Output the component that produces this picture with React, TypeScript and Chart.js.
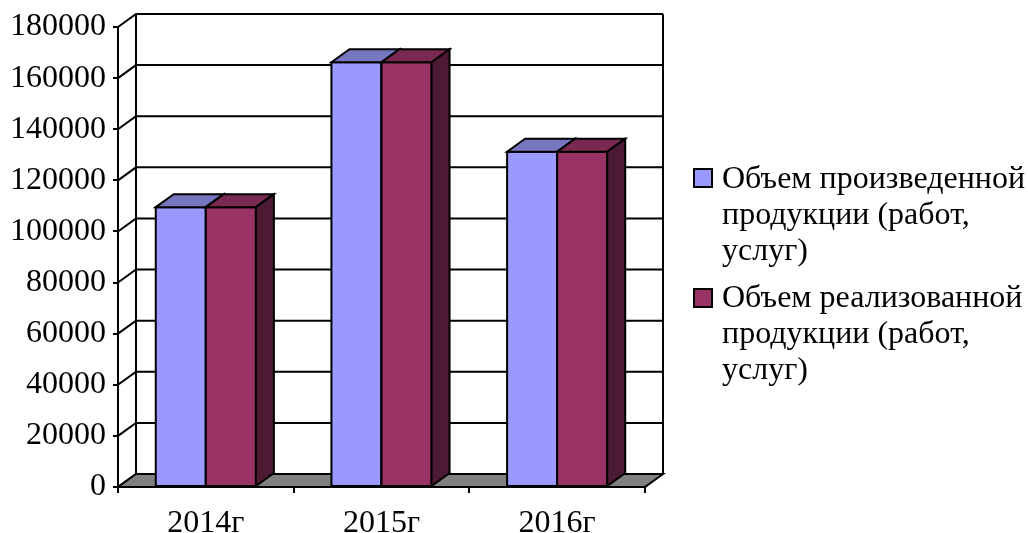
import React, { useEffect, useRef } from "react";
import { Chart, registerables } from "chart.js";

Chart.register(...registerables);

// ---- data ----
const categories = ["2014г", "2015г", "2016г"];
const producedValues = [109500, 166200, 131200];
const soldValues = [109500, 166200, 131200];
const producedLabelLines = ["Объем произведенной", "продукции (работ,", "услуг)"];
const soldLabelLines = ["Объем реализованной", "продукции (работ,", "услуг)"];
const yMin = 0;
const yMax = 180000;
const yStep = 20000;

// ---- styling ----
const FONT = "'Liberation Serif', 'Times New Roman', serif";
const FONT_SIZE = 32;
const DX = 18;
const DY = -13;
const seriesColors = [
  { front: "#9999FF", top: "#7777BF", side: "#5F5FA0" },
  { front: "#993366", top: "#7A2952", side: "#4D1A33" },
];

const threeDPlugin = {
  id: "threeD",
  beforeDatasetsDraw(chart: any) {
    const { ctx, chartArea } = chart;
    const { left, right, top, bottom } = chartArea;
    const y = chart.scales.y;
    ctx.save();
    ctx.strokeStyle = "#000";
    ctx.lineWidth = 2;
    ctx.lineJoin = "miter";
    // left wall diagonals + back wall gridlines
    y.ticks.forEach((t: any) => {
      const py = y.getPixelForValue(t.value);
      ctx.beginPath();
      ctx.moveTo(left, py);
      ctx.lineTo(left + DX, py + DY);
      ctx.lineTo(right + DX, py + DY);
      ctx.stroke();
    });
    // back wall verticals
    ctx.beginPath();
    ctx.moveTo(left + DX, top + DY);
    ctx.lineTo(left + DX, bottom + DY);
    ctx.moveTo(right + DX, top + DY);
    ctx.lineTo(right + DX, bottom + DY);
    ctx.stroke();
    // floor
    ctx.beginPath();
    ctx.moveTo(left, bottom);
    ctx.lineTo(right, bottom);
    ctx.lineTo(right + DX, bottom + DY);
    ctx.lineTo(left + DX, bottom + DY);
    ctx.closePath();
    ctx.fillStyle = "#808080";
    ctx.fill();
    ctx.stroke();
    ctx.restore();
  },
  afterDatasetsDraw(chart: any) {
    const { ctx } = chart;
    const n = chart.data.labels.length;
    ctx.save();
    ctx.strokeStyle = "#000";
    ctx.lineWidth = 2;
    ctx.lineJoin = "miter";
    for (let i = 0; i < n; i++) {
      chart.data.datasets.forEach((_ds: any, di: number) => {
        const meta = chart.getDatasetMeta(di);
        const el = meta.data[i];
        if (!el) return;
        const { x, y, base, width } = el.getProps(["x", "y", "base", "width"], true);
        const l = x - width / 2;
        const r = x + width / 2;
        const c = seriesColors[di];
        // front
        ctx.beginPath();
        ctx.rect(l, y, r - l, base - y);
        ctx.fillStyle = c.front;
        ctx.fill();
        ctx.stroke();
        // top
        ctx.beginPath();
        ctx.moveTo(l, y);
        ctx.lineTo(l + DX, y + DY);
        ctx.lineTo(r + DX, y + DY);
        ctx.lineTo(r, y);
        ctx.closePath();
        ctx.fillStyle = c.top;
        ctx.fill();
        ctx.stroke();
        // side
        ctx.beginPath();
        ctx.moveTo(r, y);
        ctx.lineTo(r + DX, y + DY);
        ctx.lineTo(r + DX, base + DY);
        ctx.lineTo(r, base);
        ctx.closePath();
        ctx.fillStyle = c.side;
        ctx.fill();
        ctx.stroke();
      });
    }
    ctx.restore();
  },
};

export default function App() {
  const canvasRef = useRef<HTMLCanvasElement | null>(null);

  useEffect(() => {
    if (!canvasRef.current) return;
    const chart = new Chart(canvasRef.current, {
      type: "bar",
      data: {
        labels: categories,
        datasets: [
          {
            label: producedLabelLines.join(" "),
            data: producedValues,
            backgroundColor: seriesColors[0].front,
            borderColor: "#000",
            borderWidth: 2,
            categoryPercentage: 0.57,
            barPercentage: 1,
          },
          {
            label: soldLabelLines.join(" "),
            data: soldValues,
            backgroundColor: seriesColors[1].front,
            borderColor: "#000",
            borderWidth: 2,
            categoryPercentage: 0.57,
            barPercentage: 1,
          },
        ],
      },
      options: {
        animation: false,
        responsive: false,
        devicePixelRatio: 1,
        layout: { padding: { top: 27, right: 383, left: 0, bottom: 0 } },
        plugins: {
          legend: { display: false },
          tooltip: { enabled: false },
        },
        scales: {
          x: {
            afterFit: (s: any) => {
              s.height = 46;
            },
            grid: {
              display: true,
              offset: true,
              drawOnChartArea: false,
              drawTicks: true,
              tickLength: 6,
              color: "#000",
              lineWidth: 2,
            },
            border: { display: true, color: "#000", width: 2 },
            ticks: {
              color: "#000",
              font: { family: FONT, size: FONT_SIZE },
              padding: 11,
              maxRotation: 0,
            },
          },
          y: {
            min: yMin,
            max: yMax,
            afterFit: (s: any) => {
              s.width = 118;
            },
            grid: {
              display: true,
              drawOnChartArea: false,
              drawTicks: true,
              tickLength: 5,
              color: "#000",
              lineWidth: 2,
            },
            border: { display: true, color: "#000", width: 2 },
            ticks: {
              stepSize: yStep,
              color: "#000",
              font: { family: FONT, size: FONT_SIZE },
              padding: 7,
              callback: (v: any) => String(v),
            },
          },
        },
      },
      plugins: [threeDPlugin],
    });
    return () => chart.destroy();
  }, []);

  const legendItems = [
    { lines: producedLabelLines, color: seriesColors[0].front, top: 159, boxTop: 168 },
    { lines: soldLabelLines, color: seriesColors[1].front, top: 278, boxTop: 288 },
  ];

  return (
    <div
      style={{
        position: "fixed",
        left: 0,
        top: 0,
        width: 1028,
        height: 533,
        background: "#fff",
        overflow: "hidden",
      }}
    >
      <canvas ref={canvasRef} width={1028} height={533} style={{ display: "block" }} />
      {legendItems.map((it, i) => (
        <div key={i}>
          <div
            style={{
              position: "absolute",
              left: 693,
              top: it.boxTop,
              width: 20,
              height: 20,
              boxSizing: "border-box",
              border: "2px solid #000",
              background: it.color,
            }}
          />
          <div
            style={{
              position: "absolute",
              left: 722,
              top: it.top,
              fontFamily: FONT,
              fontSize: FONT_SIZE,
              lineHeight: "36px",
              color: "#000",
              whiteSpace: "nowrap",
            }}
          >
            {it.lines.map((ln, j) => (
              <div key={j}>{ln}</div>
            ))}
          </div>
        </div>
      ))}
    </div>
  );
}
